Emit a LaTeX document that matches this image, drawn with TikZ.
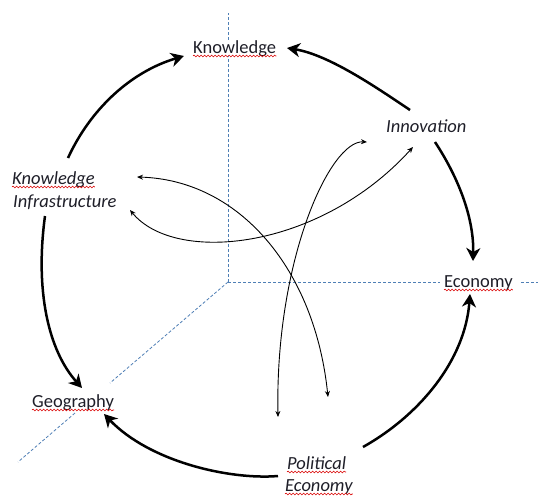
\documentclass[tikz,border=0pt]{standalone}
\usepackage{fontspec}
\setmainfont{Carlito}
\usetikzlibrary{arrows.meta,decorations.pathmorphing}
\definecolor{axisblue}{HTML}{4F7FB5}
\definecolor{txt}{HTML}{1E1E28}
\tikzset{
  lbl/.style={inner sep=0pt,anchor=base west,text=txt,font=\fontsize{18.5}{22}\selectfont},
  ilbl/.style={lbl,font=\fontsize{18.5}{22}\selectfont\itshape},
  axis/.style={axisblue,line width=0.8pt,dash pattern=on 3pt off 2pt},
  bigarrow/.style={line width=2.5pt,-{Stealth[length=13pt,width=14pt,inset=4pt]}},
  thinarrow/.style={line width=0.9pt,{Stealth[length=6pt,width=5pt]}-{Stealth[length=6pt,width=5pt]}},
  spell/.style={red!85!black,line width=0.6pt,decorate,decoration={snake,amplitude=0.9pt,segment length=3.5pt}}
}
\begin{document}
\begin{tikzpicture}[x=1pt,y=-1pt]
\useasboundingbox (0,0) rectangle (538,498);
% labels
\node[lbl] (kn) at (193,53) {Knowledge};
\node[ilbl] (inn) at (386,132) {Innovation};
\node[ilbl] (kia) at (12,184) {Knowledge};
\node[ilbl] (kib) at (13,207) {Infrastructure};
\node[lbl] (eco) at (444,287) {Economy};
\node[lbl] (geo) at (32,407) {Geography};
\node[ilbl] (pea) at (287,469) {Political};
\node[ilbl] (peb) at (285,491) {Economy};
% spell-check underlines
\foreach \n in {kn,kia,eco,geo,pea,peb}
  \draw[spell] ([yshift=-3pt]\n.base west) -- ([yshift=-3pt]\n.base east);
% axes
\coordinate (o) at (228,282);
\coordinate (ztop) at (228,13);
\coordinate (xend) at (538,282);
\coordinate (yend) at (18,462);
\draw[axis] (o) -- (kn.south -| o);
\draw[axis] (kn.north -| o) -- (ztop);
\draw[axis] (o) -- ([xshift=-4pt]eco.west |- o);
\draw[axis] ([xshift=8pt]eco.east |- o) -- (xend);
\draw[axis] (o) -- (110,383);
\draw[axis] (75,413) -- (yend);
% outer cycle
\coordinate (a1s) at (410,110); \coordinate (a1e) at (287,48);
\coordinate (a2s) at (435,142); \coordinate (a2e) at (473,261);
\coordinate (a3s) at (363,447); \coordinate (a3e) at (470,294);
\coordinate (a4s) at (278,476); \coordinate (a4e) at (104,414);
\coordinate (a5s) at (45,216);  \coordinate (a5e) at (82,388);
\coordinate (a6s) at (68,158);  \coordinate (a6e) at (184,56);
\draw[bigarrow] (a1s) .. controls (380,90) and (330,55) .. (a1e);
\draw[bigarrow] (a2s) .. controls (460,180) and (474,220) .. (a2e);
\draw[bigarrow] (a3s) .. controls (420,415) and (465,360) .. (a3e);
\draw[bigarrow] (a4s) .. controls (230,480) and (150,462) .. (a4e);
\draw[bigarrow] (a5s) .. controls (35,290) and (48,350) .. (a5e);
\draw[bigarrow] (a6s) .. controls (90,110) and (130,72) .. (a6e);
% inner links
\coordinate (b1s) at (137,177); \coordinate (b1e) at (328,397);
\coordinate (b2s) at (130,210); \coordinate (b2e) at (413,147);
\coordinate (b3s) at (367,142); \coordinate (b3e) at (278,417);
\draw[thinarrow] (b1s) .. controls (240,180) and (315,270) .. (b1e);
\draw[thinarrow] (b2s) .. controls (175,265) and (320,250) .. (b2e);
\draw[thinarrow] (b3s) .. controls (330,140) and (275,260) .. (b3e);
\end{tikzpicture}
\end{document}
